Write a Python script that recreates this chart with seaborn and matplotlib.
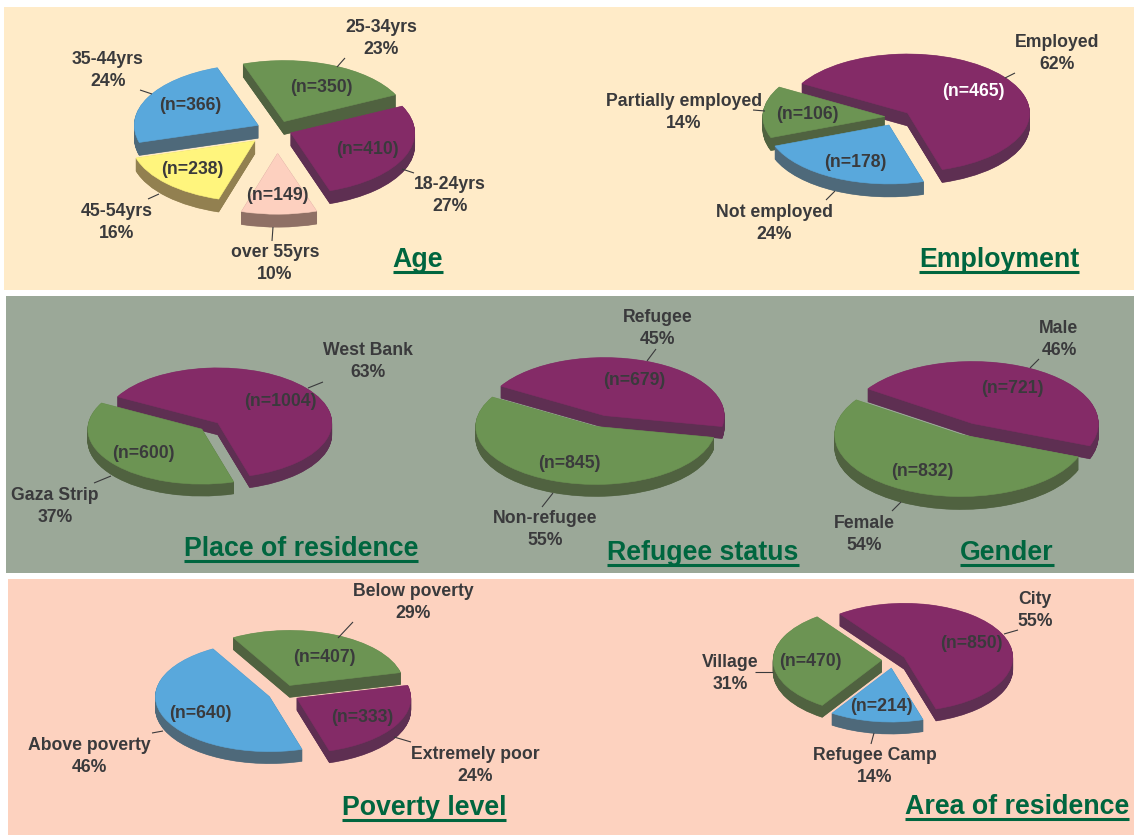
import math
import matplotlib
matplotlib.use("Agg")
import matplotlib.pyplot as plt
import seaborn as sns

# values
age_names = ["18-24yrs", "over 55yrs", "45-54yrs", "35-44yrs", "25-34yrs"]
age_n = [410, 149, 238, 366, 350]
age_pct = [27, 10, 16, 24, 23]

emp_names = ["Employed", "Not employed", "Partially employed"]
emp_n = [465, 178, 106]
emp_pct = [62, 24, 14]

place_names = ["West Bank", "Gaza Strip"]
place_n = [1004, 600]
place_pct = [63, 37]

refugee_names = ["Refugee", "Non-refugee"]
refugee_n = [679, 845]
refugee_pct = [45, 55]

gender_names = ["Male", "Female"]
gender_n = [721, 832]
gender_pct = [46, 54]

poverty_names = ["Extremely poor", "Above poverty", "Below poverty"]
poverty_n = [333, 640, 407]
poverty_pct = [24, 46, 29]

area_names = ["City", "Refugee Camp", "Village"]
area_n = [850, 214, 470]
area_pct = [55, 14, 31]

W, H = 1134, 835
PURPLE, GREEN, BLUE, YELLOW, PINK = "#842B67", "#6C9453", "#59A8DC", "#FFF57D", "#FDD0BF"
DARK = {PURPLE: "#5E2F52", GREEN: "#506240", BLUE: "#4E697A", YELLOW: "#928050", PINK: "#8F7065"}
INK = "#3A3A3C"
TITLE_GREEN = "#00663F"

sns.set_theme(style="white")
plt.rcParams["font.family"] = ["Liberation Sans", "DejaVu Sans"]
plt.rcParams["font.weight"] = "bold"

fig = plt.figure(figsize=(W / 100, H / 100), dpi=100, facecolor="white")


def pixel_axes(zorder):
    ax = fig.add_axes([0, 0, 1, 1], zorder=zorder)
    ax.set_xlim(0, W)
    ax.set_ylim(H, 0)
    ax.axis("off")
    return ax


back = pixel_axes(0)
front = pixel_axes(5)

back.add_patch(plt.Rectangle((4, 7), W - 4, 283, color="#FFEBC8", lw=0))
back.add_patch(plt.Rectangle((6, 296), W - 6, 277, color="#9BA898", lw=0))
back.add_patch(plt.Rectangle((8, 579), W - 8, 256, color="#FDD2BF", lw=0))


def draw_pie(values, colors, cx, cy, rx, ry, depth, start, explode):
    # each pie gets its own squashed axes, the side wall is the pie repeated downwards
    pad = 1.7
    ax = fig.add_axes([(cx - pad * rx) / W, 1 - (cy + pad * ry) / H, 2 * pad * rx / W, 2 * pad * ry / H], zorder=2)
    step = 1 / ry
    for k in range(depth * 2, -1, -1):
        wedges, _ = ax.pie(values, colors=[DARK[c] if k else c for c in colors], explode=explode,
                           startangle=start, counterclock=False, center=(0, -k * 0.5 * step),
                           wedgeprops={"linewidth": 0.4})
        for w, c in zip(wedges, colors):
            mid = math.radians((w.theta1 + w.theta2) / 2)
            # front wedges are drawn over the ones behind them
            w.set_zorder(10 - 4 * math.sin(mid) + (0.01 if k == 0 else 0))
            w.set_edgecolor(DARK[c] if k else c)
    ax.set_aspect("auto")
    ax.set_xlim(-pad, pad)
    ax.set_ylim(-pad, pad)
    ax.axis("off")


def label(x, y, name, pct):
    front.text(x, y + 1.5, f"{name}\n{pct}%", ha="center", va="center", fontsize=12.7, color=INK, linespacing=1.4)


def count(x, y, n, color=INK):
    front.text(x, y + 1.5, f"(n={n})", ha="center", va="center", fontsize=12.7, color=color)


def leader(x0, y0, x1, y1):
    front.plot([x0, x1], [y0, y1], color=INK, lw=0.8, solid_capstyle="butt")


def title(x, y, s):
    t = front.text(x, y + 2, s, ha="center", va="center", fontsize=19.3, color=TITLE_GREEN)
    box = t.get_window_extent(fig.canvas.get_renderer())
    front.plot([box.x0, box.x1], [y + 13.5, y + 13.5], color=TITLE_GREEN, lw=2.2, solid_capstyle="butt")


# Age
draw_pie(age_n, [PURPLE, PINK, YELLOW, BLUE, GREEN], 277, 130, 124, 61, 13, 26, [0.12, 0.38, 0.25, 0.17, 0.15])
for x, y, i in [(450, 194, 0), (275, 262, 1), (117, 221, 2), (108, 69, 3), (381, 37, 4)]:
    label(x, y, age_names[i], age_pct[i])
for x, y, i in [(367, 148, 0), (277, 194, 1), (192, 168, 2), (190, 104, 3), (321, 86, 4)]:
    count(x, y, age_n[i])
leader(345, 58, 337, 67); leader(140, 90, 152, 94); leader(402, 169, 414, 173)
leader(148, 199, 159, 194); leader(273, 227, 272, 241)
title(418, 258, "Age")

# Employment
draw_pie(emp_n, [PURPLE, BLUE, GREEN], 897, 117, 122, 59, 13, 150, [0.11, 0.15, 0.1])
for x, y, i in [(1057, 52, 0), (774, 222, 1), (684, 111, 2)]:
    label(x, y, emp_names[i], emp_pct[i])
count(973, 90, emp_n[0], "white"); count(855, 161, emp_n[1]); count(807, 113, emp_n[2])
leader(1005, 78, 1015, 73); leader(753, 110, 765, 111); leader(835, 191, 826, 200)
title(999, 258, "Employment")

# Place of residence
draw_pie(place_n, [PURPLE, GREEN], 209.8, 426, 114, 55, 12, 151.6, [0.09, 0.09])
label(368, 360, place_names[0], place_pct[0]); label(55, 505, place_names[1], place_pct[1])
count(280, 400, place_n[0]); count(143, 452, place_n[1])
leader(308, 388, 323, 382); leader(111, 476, 94, 483)
title(301, 547, "Place of residence")

# Refugee status
draw_pie(refugee_n, [PURPLE, GREEN], 600, 421, 120, 58, 12, 149.5, [0.1, 0.1])
label(658, 327, refugee_names[0], refugee_pct[0]); label(545, 528, refugee_names[1], refugee_pct[1])
count(634, 379, refugee_n[0]); count(569, 462, refugee_n[1])
leader(647, 361, 656, 349); leader(553, 493, 542, 507)
title(703, 551, "Refugee status")

# Gender
draw_pie(gender_n, [PURPLE, GREEN], 966.5, 429, 126, 62, 13, 146, [0.1, 0.1])
label(1059, 338, gender_names[0], gender_pct[0]); label(864, 533, gender_names[1], gender_pct[1])
count(1012, 387, gender_n[0]); count(922, 470, gender_n[1])
leader(1030, 368, 1039, 359); leader(901, 502, 892, 511)
title(1007, 551, "Gender")

# Poverty level
draw_pie(poverty_n, [PURPLE, BLUE, GREEN], 282, 694, 114, 55, 12, 13.5, [0.15, 0.12, 0.17])
for x, y, i in [(475, 764, 0), (89, 755, 1), (413, 601, 2)]:
    label(x, y, poverty_names[i], poverty_pct[i])
count(362, 716, poverty_n[0]); count(200, 712, poverty_n[1]); count(324, 656, poverty_n[2])
leader(338, 638, 353, 622); leader(163, 731, 152, 733); leader(394, 737, 411, 742)
title(424, 806, "Poverty level")

# Area of residence
draw_pie(area_n, [PURPLE, BLUE, GREEN], 893.6, 660, 108.5, 54, 12, 126.5, [0.11, 0.15, 0.11])
for x, y, i in [(1035, 609, 0), (875, 765, 1), (730, 672, 2)]:
    label(x, y, area_names[i], area_pct[i])
count(971, 642, area_n[0]); count(881, 705, area_n[1]); count(810, 660, area_n[2])
leader(1004, 634, 1018, 630); leader(773, 672, 755, 672); leader(874, 733, 871, 744)
title(1017, 805, "Area of residence")

fig.savefig("out.png", dpi=100)
